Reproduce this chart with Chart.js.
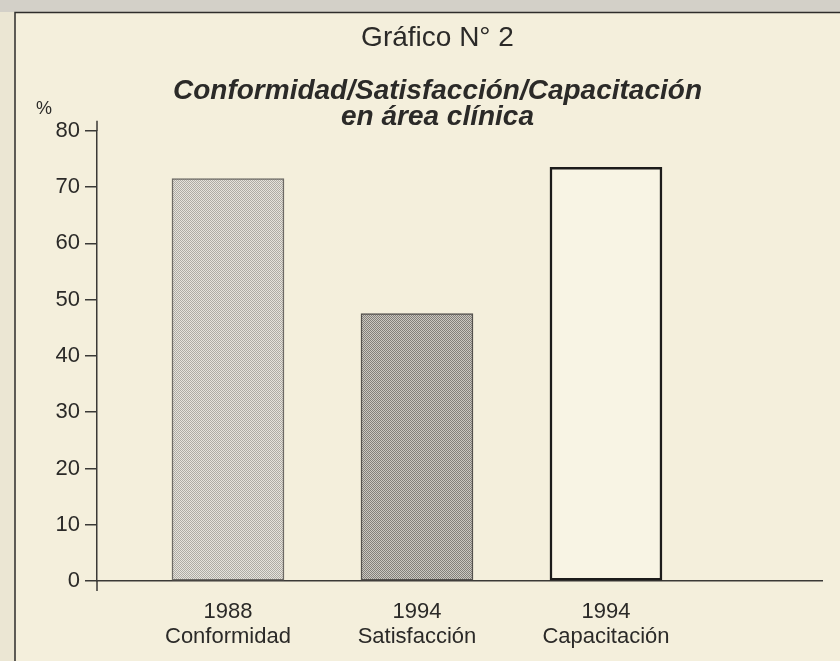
<!DOCTYPE html>
<html>
<head>
<meta charset="utf-8">
<script src="https://cdn.jsdelivr.net/npm/chart.js@4.4.1/dist/chart.umd.min.js"></script>
<style>
  body { margin: 0; background: #f4efdc; }
  canvas { display: block; }
</style>
</head>
<body>
<canvas id="grafico" width="840" height="661"></canvas>
<script>
// datos del grafico
var years = ['1988', '1994', '1994'];
var categories = ['Conformidad', 'Satisfacción', 'Capacitación'];
var values = [71.5, 47.5, 73.5];
var yTicks = [0, 10, 20, 30, 40, 50, 60, 70, 80];

var FONT = "'Liberation Sans', Arial, Helvetica, sans-serif";
var INK = '#2b2a28';

// tramas punteadas para las barras
function trama(claro, oscuro) {
  var c = document.createElement('canvas');
  c.width = 2; c.height = 2;
  var g = c.getContext('2d');
  g.fillStyle = claro; g.fillRect(0, 0, 2, 2);
  g.fillStyle = oscuro; g.fillRect(0, 0, 1, 1); g.fillRect(1, 1, 1, 1);
  return g.createPattern(c, 'repeat');
}

var fondos = [trama('#e6e3dc', '#aeaba4'), trama('#cbc8c1', '#83807a'), '#f8f4e4'];
var bordes = ['#6d6a65', '#55524e', '#1c1b1a'];
var grosores = [1.5, 1.5, 2.5];

var papel = {
  id: 'papel',
  beforeDraw: function(chart) {
    var ctx = chart.ctx;
    ctx.save();
    ctx.fillStyle = '#f4efdc';
    ctx.fillRect(0, 0, chart.width, chart.height);
    ctx.fillStyle = '#d3d0c8';
    ctx.fillRect(0, 0, chart.width, 12);
    ctx.fillStyle = '#ebe6d3';
    ctx.fillRect(0, 12, 15, chart.height);
    ctx.strokeStyle = '#2e2d2b';
    ctx.lineWidth = 1.5;
    ctx.beginPath();
    ctx.moveTo(15, chart.height);
    ctx.lineTo(15, 12.5);
    ctx.lineTo(chart.width, 12.5);
    ctx.stroke();
    ctx.restore();
  },
  afterDraw: function(chart) {
    var ctx = chart.ctx, y = chart.scales.y;
    var x0 = chart.chartArea.left;
    ctx.save();
    // el eje vertical sobresale un poco arriba y bajo el cero
    ctx.strokeStyle = '#3a3936';
    ctx.lineWidth = 1.5;
    ctx.beginPath();
    ctx.moveTo(x0, y.getPixelForValue(0));
    ctx.lineTo(x0, y.getPixelForValue(0) + 10);
    ctx.moveTo(x0, y.getPixelForValue(80));
    ctx.lineTo(x0, y.getPixelForValue(80) - 10);
    ctx.stroke();
    ctx.fillStyle = INK;
    ctx.font = '18px ' + FONT;
    ctx.textAlign = 'left';
    ctx.textBaseline = 'middle';
    ctx.fillText('%', x0 - 61, y.getPixelForValue(yTicks[yTicks.length - 1]) - 22);
    ctx.restore();
  }
};

var puntos = values.map(function(v, i) { return { x: i + 1, y: v }; });

new Chart(document.getElementById('grafico'), {
  type: 'bar',
  data: {
    datasets: [{
      data: puntos,
      backgroundColor: fondos,
      borderColor: bordes,
      borderWidth: grosores,
      borderSkipped: false,
      barThickness: 112
    }]
  },
  options: {
    responsive: false,
    devicePixelRatio: 1,
    animation: false,
    layout: { padding: { left: 53, right: 18, top: 10, bottom: 6 } },
    plugins: {
      legend: { display: false },
      tooltip: { enabled: false },
      title: {
        display: true,
        text: 'Gráfico N° 2',
        color: INK,
        font: { family: FONT, size: 28, weight: 'normal' },
        padding: { top: 11, bottom: 12 }
      },
      subtitle: {
        display: true,
        text: ['Conformidad/Satisfacción/Capacitación', 'en área clínica'],
        color: INK,
        font: { family: FONT, size: 28, weight: 'bold', style: 'italic', lineHeight: 0.95 },
        padding: { top: 11, bottom: 0 }
      }
    },
    scales: {
      x: {
        type: 'linear',
        min: 0.307,
        max: 4.143,
        offset: false,
        afterBuildTicks: function(axis) {
          axis.ticks = categories.map(function(c, i) { return { value: i + 1 }; });
        },
        afterFit: function(axis) { axis.height = 74; },
        grid: { display: false, drawTicks: false, offset: false },
        border: { display: true, color: '#3a3936', width: 1.5 },
        ticks: {
          autoSkip: false,
          maxRotation: 0,
          padding: 18,
          color: INK,
          font: { family: FONT, size: 22, lineHeight: 1.16 },
          callback: function(v) { return [years[v - 1], categories[v - 1]]; }
        }
      },
      y: {
        min: 0,
        max: 80,
        afterBuildTicks: function(axis) {
          axis.ticks = yTicks.map(function(t) { return { value: t }; });
        },
        afterFit: function(axis) { axis.width = 44; },
        grid: { drawOnChartArea: false, drawTicks: true, tickLength: 12, color: '#3a3936', lineWidth: 1.5 },
        border: { display: true, color: '#3a3936', width: 1.5 },
        ticks: {
          padding: 5,
          color: INK,
          font: { family: FONT, size: 22 }
        }
      }
    }
  },
  plugins: [papel]
});
</script>
</body>
</html>
